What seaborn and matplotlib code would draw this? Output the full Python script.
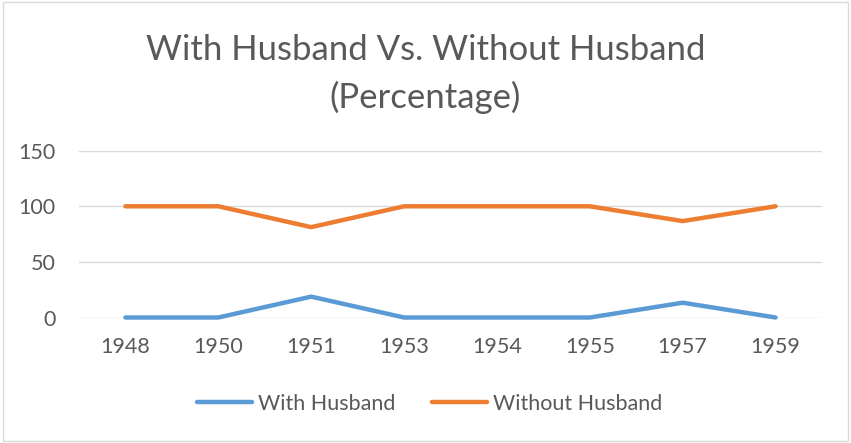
import matplotlib
matplotlib.use("Agg")
import matplotlib.pyplot as plt
import seaborn as sns
import pandas as pd
from matplotlib.lines import Line2D

years = ["1948", "1950", "1951", "1953", "1954", "1955", "1957", "1959"]
with_husband = [0, 0, 18.75, 0, 0, 0, 13.3, 0]
without_husband = [100, 100, 81.25, 100, 100, 100, 86.7, 100]
series_names = ["With Husband", "Without Husband"]
colors = ["#5B9BD5", "#ED7D31"]

df = pd.DataFrame({
    "Year": years * 2,
    "Value": with_husband + without_husband,
    "Series": [series_names[0]] * len(years) + [series_names[1]] * len(years),
})

sns.set_style("white")
plt.rcParams["font.family"] = ["Lato", "DejaVu Sans"]
text_color = "#595959"

fig = plt.figure(figsize=(8.51, 4.43), dpi=100)
ax = fig.add_axes([79 / 851, 1 - 317.5 / 443, 743 / 851, (317.5 - 150.7) / 443])

sns.lineplot(data=df, x="Year", y="Value", hue="Series", palette=colors,
             linewidth=3.2, ax=ax, legend=False, sort=False)
for ln in ax.get_lines():
    ln.set_clip_on(False)
    ln.set_solid_capstyle("round")
    ln.set_zorder(3)

ax.set_xlim(-0.5, len(years) - 0.5)
ax.set_ylim(0, 150)
ax.set_yticks([0, 50, 100, 150])
ax.set_xlabel("")
ax.set_ylabel("")
ax.grid(axis="y", color="#D9D9D9", linewidth=1.0)
ax.grid(axis="x", visible=False)
for s in ax.spines.values():
    s.set_visible(False)
ax.tick_params(axis="both", length=0, labelsize=15.5, labelcolor=text_color)
ax.tick_params(axis="y", pad=17)
ax.tick_params(axis="x", pad=14)

fig.text(0.5, 1 - 50 / 443, "With Husband Vs. Without Husband", ha="center", va="center",
         fontsize=25, color=text_color)
fig.text(0.5, 1 - 97 / 443, "(Percentage)", ha="center", va="center",
         fontsize=25, color=text_color)

handles = [Line2D([0], [0], color=c, linewidth=3.2, solid_capstyle="round") for c in colors]
fig.legend(handles, series_names, loc="center", bbox_to_anchor=(430 / 851, 1 - 404 / 443),
           ncol=2, frameon=False, fontsize=15.5, labelcolor=text_color,
           handlelength=2.55, handletextpad=0.28, columnspacing=1.7)

border = plt.Rectangle((0.003, 0.004), 0.994, 0.992, transform=fig.transFigure,
                       fill=False, edgecolor="#D9D9D9", linewidth=1.0)
fig.patches.append(border)

fig.savefig("out.png", dpi=100, facecolor="white")
